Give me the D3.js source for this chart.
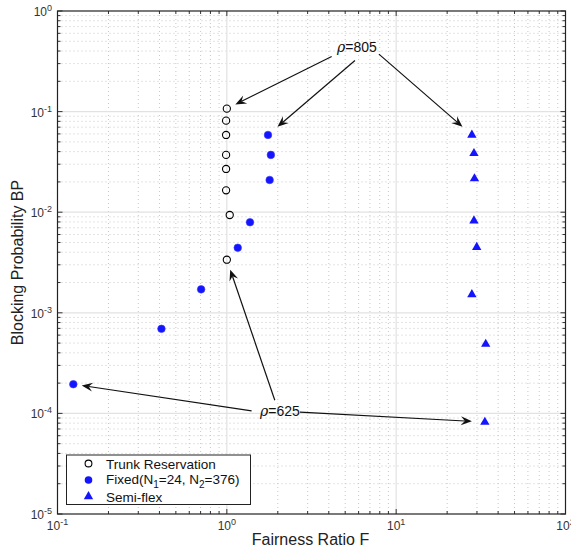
<!DOCTYPE html>
<html>
<head>
<meta charset="utf-8">
<script src="https://cdn.jsdelivr.net/npm/d3@7/dist/d3.min.js"></script>
<style>
  html, body { margin: 0; padding: 0; background: #fff; }
  svg { display: block; font-family: "Liberation Sans", Arial, Helvetica, sans-serif; }
</style>
</head>
<body>
<svg id="chart" width="571" height="552"></svg>
<script>
// Fairness ratio F (x) and blocking probability BP (y) for each scheme
const trunkF  = [1.00, 0.99, 0.99, 0.99, 0.99, 0.99, 1.04, 1.00];
const trunkBP = [0.107, 0.0813, 0.0586, 0.0371, 0.0269, 0.0165, 0.00938, 0.00337];

const fixedF  = [1.75, 1.82, 1.79, 1.37, 1.16, 0.705, 0.411, 0.124];
const fixedBP = [0.0586, 0.0371, 0.0209, 0.00794, 0.00443, 0.00171, 0.000693, 0.000195];

const semiF  = [28.0, 28.8, 29.0, 28.8, 29.9, 28.0, 33.8, 33.4];
const semiBP = [0.0586, 0.0385, 0.0216, 0.00823, 0.00448, 0.00152, 0.000489, 0.000082];

const xTicks = [0.1, 1, 10, 100];
const yTicks = [1e-5, 1e-4, 1e-3, 1e-2, 1e-1, 1];

// Annotation labels and arrow start points (data space); arrows end at the
// first (rho=805) or last (rho=625) point of each series.
const rhoLabels = [
  { text: "805", x: 5.86, y: 0.44 },
  { text: "625", x: 2.06, y: 1.08e-4 }
];
const rho805Starts = [[4.16, 0.3526], [5.71, 0.3218], [7.91, 0.3725]];
const rho625Starts = [[1.40, 1.06e-4], [1.92, 1.35e-4], [2.70, 1.03e-4]];

const svg = d3.select("#chart");
const L = 57.5, R = 565.5, T = 11, B = 514;

const x = d3.scaleLog().domain([0.1, 100]).range([L, R]);
const y = d3.scaleLog().domain([1e-5, 1]).range([B, T]);

const minorOf = (dom) => {
  const out = [];
  for (let e = Math.log10(dom[0]); e < Math.log10(dom[1]); e++)
    for (let m = 2; m <= 9; m++) out.push(m * Math.pow(10, e));
  return out;
};
const xMinor = minorOf(x.domain());
const yMinor = minorOf(y.domain());

// grid
const grid = svg.append("g");
grid.selectAll(".gxm").data(xMinor).join("line")
  .attr("x1", d => x(d)).attr("x2", d => x(d)).attr("y1", T).attr("y2", B)
  .attr("stroke", "#c8c8c8").attr("stroke-width", 1).attr("stroke-dasharray", "1,3");
grid.selectAll(".gym").data(yMinor).join("line")
  .attr("y1", d => y(d)).attr("y2", d => y(d)).attr("x1", L).attr("x2", R)
  .attr("stroke", "#c8c8c8").attr("stroke-width", 1).attr("stroke-dasharray", "1,3");
grid.selectAll(".gx").data(xTicks.slice(1, -1)).join("line")
  .attr("x1", d => x(d)).attr("x2", d => x(d)).attr("y1", T).attr("y2", B)
  .attr("stroke", "#e2e2e2").attr("stroke-width", 1.2);
grid.selectAll(".gy").data(yTicks.slice(1, -1)).join("line")
  .attr("y1", d => y(d)).attr("y2", d => y(d)).attr("x1", L).attr("x2", R)
  .attr("stroke", "#e2e2e2").attr("stroke-width", 1.2);

// inward ticks on all four sides
const tickG = svg.append("g").attr("stroke", "#333").attr("stroke-width", 1);
const xt = xTicks.map(v => ({ v, len: 5 })).concat(xMinor.map(v => ({ v, len: 3 })));
const yt = yTicks.map(v => ({ v, len: 5 })).concat(yMinor.map(v => ({ v, len: 3 })));
tickG.selectAll(".tb").data(xt).join("line")
  .attr("x1", d => x(d.v)).attr("x2", d => x(d.v)).attr("y1", B).attr("y2", d => B - d.len);
tickG.selectAll(".tt").data(xt).join("line")
  .attr("x1", d => x(d.v)).attr("x2", d => x(d.v)).attr("y1", T).attr("y2", d => T + d.len);
tickG.selectAll(".tl").data(yt).join("line")
  .attr("y1", d => y(d.v)).attr("y2", d => y(d.v)).attr("x1", L).attr("x2", d => L + d.len);
tickG.selectAll(".tr").data(yt).join("line")
  .attr("y1", d => y(d.v)).attr("y2", d => y(d.v)).attr("x1", R).attr("x2", d => R - d.len);

// axes box
svg.append("rect").attr("x", L).attr("y", T).attr("width", R - L).attr("height", B - T)
  .attr("fill", "none").attr("stroke", "#222").attr("stroke-width", 1.2);

// tick labels as 10^n
const pow = v => Math.round(Math.log10(v));
const xl = svg.append("g").attr("fill", "#333");
xTicks.forEach(v => {
  const t = xl.append("text").attr("x", x(v)).attr("y", 529.5).attr("text-anchor", "middle")
    .attr("font-size", 12);
  t.append("tspan").text("10");
  t.append("tspan").attr("dy", -5).attr("font-size", 9).text(String(pow(v)));
});
const yl = svg.append("g").attr("fill", "#333");
yTicks.forEach(v => {
  const t = yl.append("text").attr("x", 52).attr("y", y(v) + 5).attr("text-anchor", "end")
    .attr("font-size", 12);
  t.append("tspan").text("10");
  t.append("tspan").attr("dy", -5).attr("font-size", 9).text(String(pow(v)));
});

// axis titles
svg.append("text").attr("x", (L + R) / 2 - 1).attr("y", 545).attr("text-anchor", "middle")
  .attr("font-size", 16).attr("fill", "#222").text("Fairness Ratio F");
svg.append("text").attr("transform", `translate(23,${(T + B) / 2}) rotate(-90)`)
  .attr("text-anchor", "middle").attr("font-size", 16).attr("fill", "#222")
  .text("Blocking Probability BP");

// series
const blue = "#1414ff";
const zip = (a, b) => a.map((v, i) => [v, b[i]]);
const trunk = zip(trunkF, trunkBP), fixed = zip(fixedF, fixedBP), semi = zip(semiF, semiBP);

svg.append("g").selectAll("circle").data(trunk).join("circle")
  .attr("cx", d => x(d[0])).attr("cy", d => y(d[1])).attr("r", 3.6)
  .attr("fill", "none").attr("stroke", "#000").attr("stroke-width", 1.1);
svg.append("g").selectAll("circle").data(fixed).join("circle")
  .attr("cx", d => x(d[0])).attr("cy", d => y(d[1])).attr("r", 3.8)
  .attr("fill", blue).attr("stroke", "#3a3aff").attr("stroke-width", 0.6);
const tri = d3.symbol().type(d3.symbolTriangle).size(38);
svg.append("g").selectAll("path").data(semi).join("path")
  .attr("transform", d => `translate(${x(d[0])},${y(d[1])})`)
  .attr("d", tri).attr("fill", blue);

// annotations
const ann = svg.append("g");
rhoLabels.forEach(l => {
  const t = ann.append("text").attr("x", x(l.x)).attr("y", y(l.y) + 5.5)
    .attr("text-anchor", "middle").attr("font-size", 14).attr("fill", "#111");
  t.append("tspan").attr("font-style", "italic").attr("font-family", "DejaVu Serif, serif").text("ρ");
  t.append("tspan").text("=" + l.text);
});

function arrow(from, to, gap) {
  const x0 = x(from[0]), y0 = y(from[1]);
  const px = x(to[0]), py = y(to[1]);
  const dx = px - x0, dy = py - y0, len = Math.hypot(dx, dy);
  const ux = dx / len, uy = dy / len;
  const tx = px - ux * gap, ty = py - uy * gap;
  const hl = 11, hw = 4.5, notch = 7;
  ann.append("line").attr("x1", x0).attr("y1", y0)
    .attr("x2", tx - ux * notch).attr("y2", ty - uy * notch)
    .attr("stroke", "#111").attr("stroke-width", 1.2);
  const bx = tx - ux * hl, by = ty - uy * hl;
  const nx = tx - ux * notch, ny = ty - uy * notch;
  ann.append("path")
    .attr("d", `M${tx},${ty} L${bx - uy * hw},${by + ux * hw} L${nx},${ny} L${bx + uy * hw},${by - ux * hw} Z`)
    .attr("fill", "#111");
}
arrow(rho805Starts[0], trunk[0], 9.5);
arrow(rho805Starts[1], fixed[0], 12.5);
arrow(rho805Starts[2], semi[0], 12.5);
arrow(rho625Starts[0], fixed[fixed.length - 1], 8.5);
arrow(rho625Starts[1], trunk[trunk.length - 1], 10.5);
arrow(rho625Starts[2], semi[semi.length - 1], 13);

// legend
const lg = svg.append("g");
lg.append("rect").attr("x", 66.5).attr("y", 455).attr("width", 184).attr("height", 49.5)
  .attr("fill", "#fff").attr("stroke", "#222").attr("stroke-width", 1);
const lx = 88.5, tx0 = 106;
const rows = [463.5, 479.5, 496.5];
lg.append("circle").attr("cx", lx).attr("cy", rows[0]).attr("r", 3.4)
  .attr("fill", "none").attr("stroke", "#000").attr("stroke-width", 1.1);
lg.append("circle").attr("cx", lx).attr("cy", rows[1] + 0.5).attr("r", 3.8).attr("fill", blue);
lg.append("path").attr("transform", `translate(${lx},${rows[2]})`).attr("d", tri).attr("fill", blue);
const lt = (yy) => lg.append("text").attr("x", tx0).attr("y", yy + 5).attr("font-size", 13.5).attr("fill", "#111");
lt(rows[0]).text("Trunk Reservation");
const f = lt(rows[1] - 1);
f.append("tspan").text("Fixed(N");
f.append("tspan").attr("dy", 4).attr("font-size", 10).text("1");
f.append("tspan").attr("dy", -4).text("=24, N");
f.append("tspan").attr("dy", 4).attr("font-size", 10).text("2");
f.append("tspan").attr("dy", -4).text("=376)");
lt(rows[2]).text("Semi-flex");
</script>
</body>
</html>
